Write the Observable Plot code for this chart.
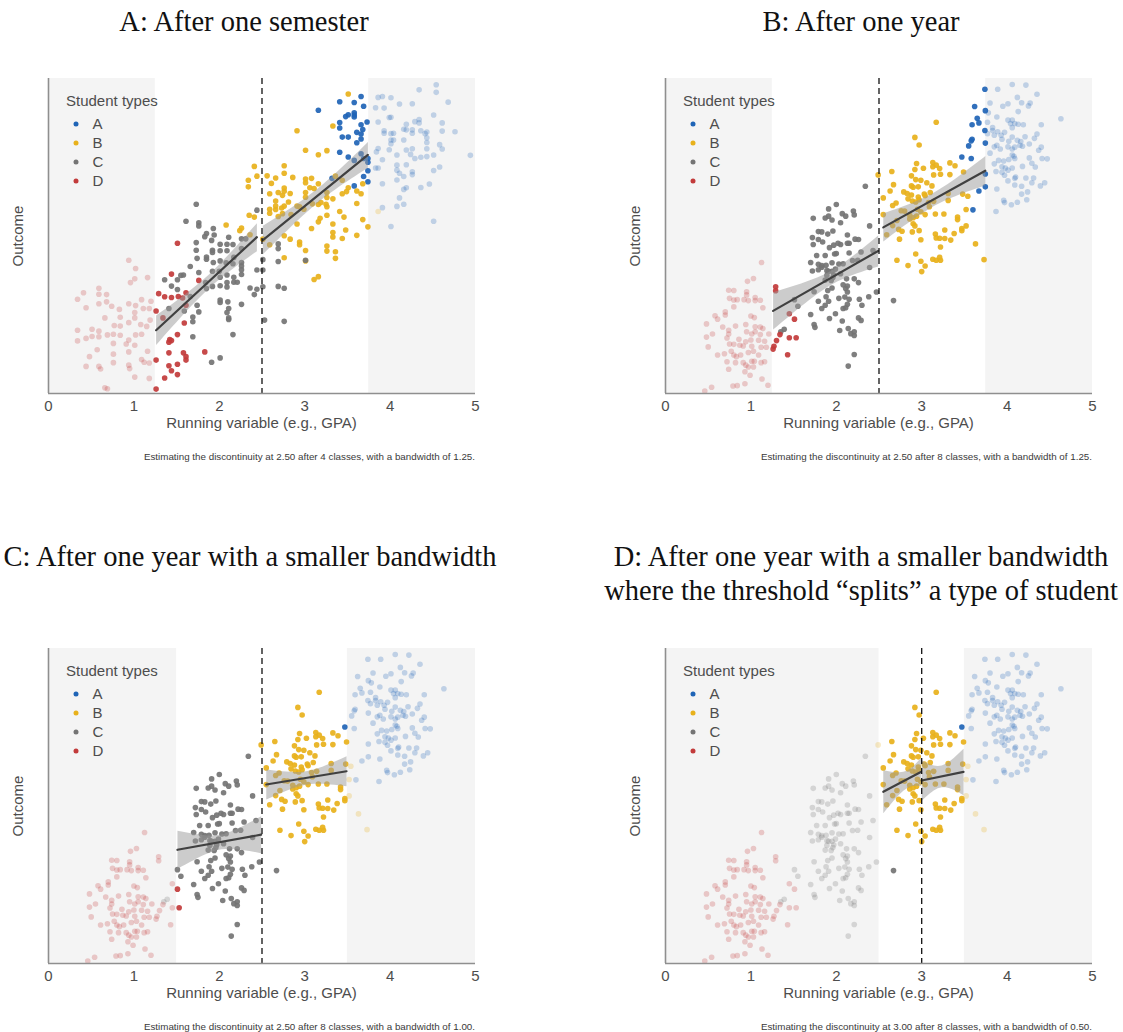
<!DOCTYPE html>
<html>
<head>
<meta charset="utf-8">
<script src="https://cdn.jsdelivr.net/npm/d3@7"></script>
<script src="https://cdn.jsdelivr.net/npm/@observablehq/plot@0.6"></script>
<style>
  body { margin: 0; background: #fff; }
  #fig { position: relative; width: 1123px; height: 1032px; overflow: hidden; background: #fff; }
  .abs { position: absolute; white-space: nowrap; }
  .title { font-family: "Liberation Serif", "Times New Roman", serif; font-size: 28.5px; line-height: 34px; color: #111; text-align: center; width: 700px; }
  .sans { font-family: "Liberation Sans", Arial, sans-serif; color: #4d4d4d; }
  .cap { font-size: 9.8px; line-height: 12px; color: #3a3a3a; text-align: right; }
  .xlab { font-size: 15px; line-height: 18px; text-align: center; }
  .ylab { font-size: 15px; line-height: 18px; transform: translate(-50%, -50%) rotate(-90deg); }
  .legt { font-size: 15px; line-height: 18px; }
  .legdot { width: 5px; height: 5px; border-radius: 50%; transform: translate(-50%, -50%); }
</style>
</head>
<body>
<div id="fig"></div>
<script>
// ---------- categories & colours ----------
const TYPES = ["A", "B", "C", "D"];
const TYPE_COLORS = ["#1f64b6", "#e8b11b", "#747474", "#c23b3b"];
const xTicks = [0, 1, 2, 3, 4, 5];

// ---------- panel settings ----------
const panelTitles = [
  ["A: After one semester"],
  ["B: After one year"],
  ["C: After one year with a smaller bandwidth"],
  ["D: After one year with a smaller bandwidth", "where the threshold \u201csplits\u201d a type of student"]
];
const cutoffs = [2.5, 2.5, 2.5, 3.0];
const bandwidths = [1.25, 1.25, 1.0, 0.5];
const classCounts = [4, 8, 8, 8];

// ---------- data after one semester (4 classes): [running variable, outcome] ----------
const semA = [
  [3.41,92.6],[3.58,92.4],[3.66,94.3],[3.69,91.2],[3.58,89.1],[3.58,88.4],[3.58,87.8],[3.51,88.5],[3.48,87.9],[3.41,86.0],
  [3.41,84.3],[3.73,86.2],[3.66,85.3],[3.68,83.8],[3.61,82.9],[3.66,82.4],[3.66,80.8],[3.61,79.6],[3.44,81.4],[3.51,81.4],
  [3.41,76.6],[3.51,75.1],[3.58,74.0],[3.66,76.1],[3.69,74.6],[3.74,74.6],[3.74,73.4],[3.74,70.7],[3.69,68.9],[3.74,67.2],
  [3.58,65.9],[3.32,68.3],[3.16,89.9],
  [4.54,98.0],[4.54,95.6],[4.34,96.4],[3.86,94.0],[3.91,94.3],[4.01,93.9],[4.68,92.5],[4.11,91.9],[4.26,92.0],[3.83,90.7],
  [3.93,90.6],[4.51,88.4],[3.99,87.6],[4.01,87.7],[3.86,86.2],[4.19,85.5],[4.29,86.3],[4.34,87.0],[4.34,85.9],[4.61,85.9],
  [4.16,83.9],[4.19,83.7],[4.26,83.7],[4.36,83.4],[4.43,83.0],[4.41,82.5],[4.61,83.3],[4.76,83.1],[3.93,83.4],[3.93,82.6],
  [4.01,82.5],[4.04,82.6],[4.26,82.6],[4.43,81.2],[4.01,80.5],[4.04,80.5],[4.16,80.5],[4.43,79.7],[4.01,79.3],[4.58,79.0],
  [3.86,77.8],[3.84,76.7],[3.99,77.4],[4.19,77.3],[4.26,77.7],[4.43,77.7],[4.61,77.6],[4.08,75.7],[4.24,75.9],[4.29,74.6],
  [4.36,75.0],[4.43,75.2],[4.51,75.7],[4.94,75.6],[3.91,74.2],[4.08,72.5],[4.19,72.6],[3.83,71.6],[3.86,71.6],[4.08,70.9],
  [4.11,69.9],[4.26,70.4],[4.26,69.5],[4.51,70.8],[4.58,71.9],[4.16,68.9],[4.08,67.8],[3.91,66.6],[4.46,66.5],[4.36,65.4],
  [4.19,65.3],[4.16,64.8],[4.11,62.1],[4.16,60.1],[4.08,59.4],[3.91,59.0],[4.01,53.0],[4.51,54.7]
];
const semB = [
  [2.91,83.4],[3.01,77.2],[3.16,75.8],[3.26,77.1],[3.33,84.9],[2.41,72.1],[2.44,69.0],[2.34,67.7],[2.34,65.6],[2.56,69.1],
  [2.61,66.7],[2.66,68.4],[2.76,72.3],[2.76,69.9],[2.86,68.6],[2.59,63.4],[2.69,63.8],[2.74,62.9],[2.76,65.2],[2.76,64.2],
  [2.83,63.5],[3.01,68.1],[3.01,66.9],[3.08,68.3],[3.06,65.3],[3.11,65.1],[3.01,63.8],[3.01,62.3],[3.16,66.6],[3.26,63.8],
  [3.26,62.2],[3.33,61.8],[2.66,61.1],[2.66,59.5],[2.66,58.4],[2.59,58.5],[2.59,57.2],[2.73,58.9],[2.76,59.5],[2.81,60.8],
  [2.69,56.2],[2.74,57.1],[2.84,56.8],[2.91,59.5],[2.94,59.3],[2.99,58.5],[3.09,60.2],[3.16,60.0],[3.19,60.6],[3.25,60.1],
  [3.26,59.3],[2.91,53.8],[3.16,54.5],[3.18,55.6],[3.26,56.6],[3.33,53.8],[3.08,52.4],[3.33,51.1],[3.33,49.7],[2.35,56.6],
  [2.41,56.0],[2.24,51.7],[2.26,52.5],[2.36,50.4],[2.08,53.5],[2.51,49.0],[2.59,47.2],[2.76,50.1],[2.76,43.1],[2.83,49.0],
  [2.94,48.1],[2.94,47.2],[3.01,45.4],[3.01,42.1],[3.26,46.8],[3.26,45.2],[3.36,45.0],[3.36,42.9],[3.11,36.2],[3.16,37.1],
  [3.51,95.1],[3.36,69.0],[3.44,67.7],[3.68,66.6],[3.51,65.3],[3.49,64.1],[3.44,63.4],[3.61,64.3],[3.66,63.4],[3.61,60.3],
  [3.41,57.8],[3.46,56.0],[3.68,55.2],[3.48,51.9],[3.44,49.2],[3.61,50.2],[3.74,52.9],[3.86,57.8]
];
const semC = [
  [1.73,60.1],[1.61,54.7],[1.73,47.9],[1.73,45.5],[1.74,42.9],[1.66,40.3],[1.58,37.6],[1.55,37.5],[1.36,36.1],[1.51,36.1],
  [1.44,34.1],[1.51,33.0],[1.41,27.0],[1.59,26.2],[1.69,24.3],[1.69,22.8],[1.69,18.0],[1.74,28.0],
  [1.76,54.2],[1.76,53.2],[1.93,52.4],[1.85,50.8],[1.94,50.3],[1.83,49.8],[1.91,48.6],[2.26,49.1],[2.31,49.1],[2.11,49.6],
  [2.44,58.2],[1.92,45.5],[1.92,44.8],[2.01,47.4],[2.01,45.3],[2.09,47.4],[2.09,45.3],[2.16,47.3],[2.26,46.0],[1.85,43.3],
  [1.85,42.6],[1.93,41.6],[2.01,42.1],[2.08,41.5],[2.17,43.2],[2.16,41.2],[2.26,41.6],[2.26,40.5],[2.26,39.3],[2.26,37.8],
  [1.76,38.4],[1.92,38.8],[2.00,38.8],[2.01,36.9],[2.09,37.6],[2.09,35.2],[2.09,33.8],[2.17,35.3],[2.21,35.3],[2.17,36.9],
  [1.84,35.2],[1.85,33.3],[1.92,34.0],[2.01,34.2],[1.66,30.8],[2.36,33.5],[2.44,33.1],[2.41,31.4],[2.01,29.7],[2.01,28.9],
  [2.10,29.1],[2.11,27.0],[2.26,28.3],[1.76,25.9],[2.09,25.7],[2.11,24.0],[2.11,23.5],[2.16,18.7],[2.01,11.3],[1.91,9.9],
  [2.44,39.2],[2.51,42.5],[2.51,39.2],[2.51,33.9],[2.53,23.3],[2.69,47.5],[2.69,46.0],[2.69,41.9],[2.69,34.0],[2.76,33.4],
  [2.76,22.9],[3.01,42.3]
];
const semD = [
  [0.94,42.3],[1.02,39.7],[1.01,36.4],[1.16,36.8],[0.96,35.2],[0.59,33.4],[0.41,32.0],[0.59,31.5],[0.68,31.4],[0.34,29.9],
  [0.68,29.1],[0.59,28.5],[0.44,27.2],[0.74,27.7],[0.83,26.7],[0.94,28.5],[1.02,27.9],[1.09,29.8],[1.11,27.0],[1.18,27.0],
  [1.20,29.3],[0.66,24.0],[0.84,24.2],[1.01,25.7],[1.01,24.0],[0.77,21.6],[0.84,21.4],[0.94,22.5],[1.08,21.9],[1.15,21.3],
  [1.19,23.3],[0.34,20.1],[0.51,20.4],[0.59,19.8],[0.69,18.6],[0.76,18.8],[0.84,18.5],[1.02,18.6],[0.51,18.1],[0.44,17.5],
  [0.34,16.7],[0.59,18.0],[1.09,18.8],[0.94,17.0],[0.91,15.7],[0.76,15.9],[1.01,15.3],[0.94,13.2],[0.57,13.9],[1.16,13.4],
  [0.76,12.5],[0.48,11.7],[1.09,10.8],[1.18,9.7],[1.12,9.9],[0.76,9.8],[0.44,8.6],[0.59,8.6],[0.61,7.8],[0.94,9.0],
  [0.95,7.9],[1.01,5.2],[1.18,4.8],[0.66,1.8],[0.69,1.5],
  [1.51,47.7],[1.44,37.9],[1.29,31.7],[1.36,30.7],[1.44,30.5],[1.52,30.8],[1.61,32.0],[1.57,30.3],[1.26,26.2],[1.34,24.0],
  [1.59,22.4],[1.61,28.0],[1.51,18.7],[1.42,17.1],[1.41,16.3],[1.44,16.8],[1.41,12.9],[1.58,12.9],[1.61,11.7],[1.61,10.6],
  [1.26,10.6],[1.41,8.8],[1.44,7.2],[1.51,9.3],[1.51,6.0],[1.36,4.9],[1.26,1.4],[1.76,35.9],[1.83,13.2]
];

// ---------- data after one year (8 classes): [running variable, outcome] ----------
const yrA = [
  [3.74,96.6],[3.62,91.1],[3.745,89.8],[3.65,87.4],[3.67,85.9],[3.59,85.3],[3.74,83.5],[3.59,80.7],[3.58,80.2],[3.55,78.6],
  [3.745,79.5],[3.47,75.1],[3.58,74.6],[3.745,69.7],[3.745,65.6],[3.67,64.3],[3.60,58.3],
  [3.89,96.6],[4.06,98.1],[4.22,97.9],[4.35,95.0],[4.12,94.0],[3.80,92.2],[3.95,91.2],[4.01,92.0],[4.17,92.3],[4.25,91.3],
  [4.27,92.2],[4.13,89.5],[3.78,89.1],[3.88,87.8],[4.63,87.2],[4.01,86.8],[4.06,86.8],[4.04,85.7],[4.09,85.7],[4.13,85.5],
  [4.19,85.3],[4.06,84.4],[4.40,85.3],[3.77,86.1],[3.83,84.4],[3.83,83.5],[3.77,82.5],[3.85,82.0],[3.89,83.1],[3.93,82.0],
  [3.97,82.9],[4.35,82.4],[4.21,81.5],[4.32,81.0],[4.06,81.4],[4.02,80.1],[4.12,80.4],[4.16,80.0],[3.94,80.7],[4.26,79.2],
  [4.18,78.5],[3.85,78.3],[3.88,78.8],[3.92,77.6],[4.01,78.3],[4.06,77.6],[4.09,78.2],[4.15,78.8],[4.37,77.2],[4.40,78.2],
  [3.80,76.3],[4.06,75.7],[4.08,75.3],[4.09,74.6],[4.02,74.3],[3.96,73.8],[3.90,74.0],[3.85,72.9],[4.26,74.8],[4.41,74.6],
  [4.47,74.5],[4.29,73.1],[4.33,71.9],[4.18,72.1],[3.94,72.0],[3.98,71.6],[4.06,71.6],[4.01,70.9],[3.87,70.5],[3.94,70.2],
  [3.97,69.3],[4.10,68.7],[4.09,68.3],[4.22,68.4],[4.31,68.4],[4.01,67.5],[4.09,66.2],[4.17,65.8],[4.29,66.9],[4.39,65.9],
  [4.44,66.9],[3.88,64.9],[4.24,64.0],[4.17,63.3],[3.96,61.3],[3.97,60.6],[4.12,60.7],[4.23,61.5],[4.05,59.9],[3.87,57.8]
];
const yrB = [
  [3.17,86.1],[2.92,81.3],[2.97,78.9],[2.49,69.4],[2.94,73.0],[2.65,70.5],[2.92,71.1],[3.02,71.5],[3.13,73.3],[3.13,72.0],
  [3.17,72.5],[3.21,71.4],[3.22,69.6],[3.33,73.2],[3.33,69.5],[3.14,69.4],[2.88,69.1],[2.93,67.9],[2.99,67.7],[3.06,66.9],
  [2.63,64.3],[2.67,66.3],[2.79,64.0],[2.83,63.5],[2.88,65.9],[2.90,65.5],[2.96,65.6],[3.12,65.9],[2.88,63.0],[2.96,62.4],
  [3.03,63.3],[3.10,63.8],[3.04,62.8],[2.55,62.1],[2.70,60.5],[2.84,61.8],[2.66,59.7],[2.89,61.1],[2.93,60.8],[2.97,61.5],
  [3.08,60.6],[3.14,61.0],[3.31,61.3],[2.76,58.0],[2.80,57.9],[2.86,56.6],[2.95,58.5],[2.99,57.7],[3.09,59.3],[2.55,56.8],
  [2.71,54.9],[2.86,55.4],[2.90,55.8],[2.94,56.3],[3.04,56.8],[3.16,57.0],[3.26,57.0],[2.66,53.3],[2.73,52.1],[2.77,51.5],
  [2.90,53.9],[2.92,53.2],[2.97,51.7],[2.89,51.3],[2.59,50.4],[2.74,49.0],[2.99,48.8],[3.16,50.6],[3.17,49.4],[3.21,49.3],
  [3.27,51.9],[3.27,49.2],[3.34,48.7],[3.22,46.5],[2.93,44.3],[2.71,42.3],[3.13,42.6],[3.17,42.3],[3.21,43.2],[3.22,42.3],
  [2.84,40.6],[2.99,42.0],[3.04,40.5],[3.00,38.7],
  [3.39,72.3],[3.49,70.3],[3.31,63.5],[3.48,63.3],[3.54,62.6],[3.52,58.4],[3.42,56.0],[3.42,55.2],[3.52,53.2],[3.47,52.4],
  [3.47,51.7],[3.38,50.8],[3.63,47.5],[3.73,42.5]
];
const yrC = [
  [1.73,55.6],[1.72,49.5],[1.73,47.3],[1.70,41.6],[1.72,38.9],[1.51,29.8],[1.55,27.7],[1.70,25.1],[1.74,21.9],[1.39,20.4],
  [1.35,19.6],[1.74,32.3],
  [2.34,65.8],[2.00,60.0],[1.91,58.6],[1.87,55.7],[1.91,56.3],[1.95,55.1],[2.07,57.1],[2.11,56.3],[2.20,57.9],[2.21,56.7],
  [2.05,54.2],[2.39,53.2],[1.79,51.4],[1.83,51.3],[1.90,50.6],[1.96,51.6],[1.79,48.9],[1.84,48.1],[1.92,46.3],[1.97,47.1],
  [2.02,47.7],[2.05,47.3],[2.13,50.3],[2.13,47.7],[2.15,47.7],[2.22,49.0],[2.26,48.9],[1.77,43.8],[1.87,43.8],[1.98,44.3],
  [2.00,44.4],[2.15,44.6],[2.29,44.9],[2.43,45.4],[1.79,41.0],[1.83,40.6],[1.88,40.7],[1.95,41.5],[2.03,41.1],[2.08,41.2],
  [2.19,42.2],[2.25,42.3],[1.79,39.3],[1.83,40.1],[1.89,39.0],[1.91,38.8],[1.95,38.8],[1.99,39.5],[1.89,37.5],[1.97,37.7],
  [2.12,36.4],[2.21,36.4],[2.26,35.2],[2.39,40.0],[2.05,38.0],[1.87,36.0],[1.94,35.9],[1.96,36.8],[1.90,32.7],[1.95,33.5],
  [2.08,34.5],[2.11,33.3],[2.13,34.1],[2.13,32.2],[1.88,30.7],[2.03,30.2],[2.10,30.6],[2.15,29.9],[2.27,29.9],[2.38,30.7],
  [2.47,32.2],[1.79,29.3],[1.91,29.3],[1.83,27.0],[1.87,28.0],[2.11,27.2],[2.08,27.0],[2.13,28.3],[2.30,28.0],[1.75,21.0],
  [1.92,23.8],[1.99,25.3],[2.07,23.0],[2.26,24.0],[2.29,23.2],[2.04,20.0],[2.14,20.6],[2.17,19.0],[2.21,19.6],[2.21,18.4],
  [2.21,12.4],[2.14,8.7],[2.67,29.5]
];
const yrD = [
  [1.125,41.6],[1.03,36.5],[0.96,35.6],[0.74,32.8],[0.80,32.7],[0.95,32.3],[0.95,31.3],[0.75,30.2],[0.80,29.7],[0.84,29.8],
  [0.92,29.8],[0.97,29.5],[1.05,30.5],[1.05,29.5],[1.11,29.6],[0.80,27.5],[1.14,27.2],[0.70,25.9],[0.70,24.9],[1.00,24.6],
  [1.04,24.1],[0.58,24.7],[0.61,23.6],[0.48,22.1],[0.67,21.1],[0.82,21.4],[0.94,21.9],[1.05,21.2],[1.11,21.1],[1.14,20.6],
  [0.74,20.1],[0.55,18.9],[0.74,18.9],[0.95,19.6],[1.01,18.9],[1.05,19.6],[1.11,18.7],[1.21,18.9],[0.48,17.9],[0.72,17.6],
  [0.86,17.2],[0.94,16.4],[1.00,17.0],[1.09,16.9],[1.16,16.6],[0.50,14.8],[0.75,15.7],[0.80,15.6],[0.87,15.3],[0.91,15.1],
  [1.01,15.0],[1.12,14.7],[1.18,14.7],[0.61,12.2],[0.69,12.6],[0.77,13.4],[0.80,12.2],[0.83,11.7],[0.88,12.2],[0.97,13.0],
  [1.03,13.4],[1.09,12.2],[0.72,10.1],[0.82,9.8],[0.91,9.8],[1.01,10.2],[1.04,10.2],[1.12,9.8],[1.16,10.1],[0.94,9.0],
  [0.97,8.4],[0.74,7.7],[1.03,8.4],[0.93,6.9],[0.99,5.8],[1.13,4.6],[0.84,2.5],[0.79,2.4],[0.93,3.1],[1.20,2.6],
  [0.54,2.0],[0.46,0.8],
  [1.29,33.9],[1.29,32.6],[1.45,25.3],[1.51,23.6],[1.34,18.7],[1.30,16.8],[1.45,17.7],[1.53,17.7],[1.27,15.0],[1.26,14.1],
  [1.43,12.3]
];

// ---------- build tables ----------
const asRows = (arr, type) => arr.map(([x, y]) => ({x, y, type}));
const semester = [...asRows(semA, "A"), ...asRows(semB, "B"), ...asRows(semC, "C"), ...asRows(semD, "D")];
const oneYear = [...asRows(yrA, "A"), ...asRows(yrB, "B"), ...asRows(yrC, "C"), ...asRows(yrD, "D")];
const panelData = [semester, oneYear, oneYear, oneYear];

// ---------- layout ----------
const panelLeft = [0, 617, 0, 617];
const panelTop = [60, 60, 630, 630];
const titleTop = [5, 5, 540, 540];
const titleCenter = [244, 244, 250, 244];
const fig = document.getElementById("fig");

function addDiv(cls, css, text) {
  const d = document.createElement("div");
  d.className = "abs " + cls;
  Object.assign(d.style, css);
  if (text != null) d.textContent = text;
  fig.appendChild(d);
  return d;
}

panelTitles.forEach((lines, i) => {
  const c = cutoffs[i], bw = bandwidths[i];
  const lo = c - bw, hi = c + bw;
  const data = panelData[i];
  const eps = 1e-9;
  const inWin = d => d.x >= lo - eps && d.x <= hi + eps;
  const shade = [{x1: 0, x2: lo}, {x1: hi, x2: 5}];
  const leftSide = data.filter(d => inWin(d) && d.x < c);
  const rightSide = data.filter(d => inWin(d) && d.x >= c);

  const chart = Plot.plot({
    width: 505,
    height: 378,
    marginLeft: 48,
    marginRight: 30,
    marginTop: 18,
    marginBottom: 45,
    x: {domain: [0, 5]},
    y: {domain: [0, 100], axis: null},
    color: {domain: TYPES, range: TYPE_COLORS},
    style: {fontFamily: "'Liberation Sans', Arial, sans-serif", fontSize: "15px", color: "#4d4d4d", background: "transparent", overflow: "visible"},
    marks: [
      Plot.rect(shade, {x1: "x1", x2: "x2", fill: "#f4f4f4"}),
      Plot.dot(data.filter(d => !inWin(d)), {x: "x", y: "y", fill: "type", r: 2.8, fillOpacity: 0.25}),
      Plot.dot(data.filter(inWin), {x: "x", y: "y", fill: "type", r: 2.8, fillOpacity: 0.92}),
      Plot.linearRegressionY(leftSide, {x: "x", y: "y", stroke: "#404040", strokeWidth: 2.2, fill: "#9a9a9a", fillOpacity: 0.5}),
      Plot.linearRegressionY(rightSide, {x: "x", y: "y", stroke: "#404040", strokeWidth: 2.2, fill: "#9a9a9a", fillOpacity: 0.5}),
      Plot.ruleX([c], {stroke: "#111", strokeWidth: 1.3, strokeDasharray: "6,4"}),
      Plot.ruleX([0], {stroke: "#8f8f8f", strokeWidth: 1.6}),
      Plot.ruleY([0], {stroke: "#8f8f8f", strokeWidth: 1.6}),
      Plot.axisX({ticks: xTicks, tickSize: 0, tickPadding: 7, tickFormat: d => String(d), label: null, fontSize: 15})
    ]
  });
  const holder = addDiv("", {left: panelLeft[i] + "px", top: panelTop[i] + "px"});
  holder.appendChild(chart);

  const L = panelLeft[i], T = panelTop[i];
  // title
  const t = addDiv("title", {left: (L + titleCenter[i] - 350) + "px", top: titleTop[i] + "px"});
  lines.forEach((ln, k) => { if (k) t.appendChild(document.createElement("br")); t.appendChild(document.createTextNode(ln)); });
  // axis titles
  addDiv("sans xlab", {left: (L + 48) + "px", top: (T + 354) + "px", width: "427px"}, "Running variable (e.g., GPA)");
  addDiv("sans ylab", {left: (L + 18) + "px", top: (T + 175.5) + "px"}, "Outcome");
  // caption
  addDiv("sans cap", {left: (L + 25) + "px", top: (T + 391) + "px", width: "450px"},
    `Estimating the discontinuity at ${c.toFixed(2)} after ${classCounts[i]} classes, with a bandwidth of ${bw.toFixed(2)}.`);
  // legend
  addDiv("sans legt", {left: (L + 66) + "px", top: (T + 32) + "px"}, "Student types");
  TYPES.forEach((ty, k) => {
    const cy = T + 64 + k * 19;
    addDiv("legdot", {left: (L + 75.5) + "px", top: cy + "px", background: TYPE_COLORS[k]});
    addDiv("sans legt", {left: (L + 92.5) + "px", top: (cy - 9) + "px"}, ty);
  });
});
</script>
</body>
</html>
